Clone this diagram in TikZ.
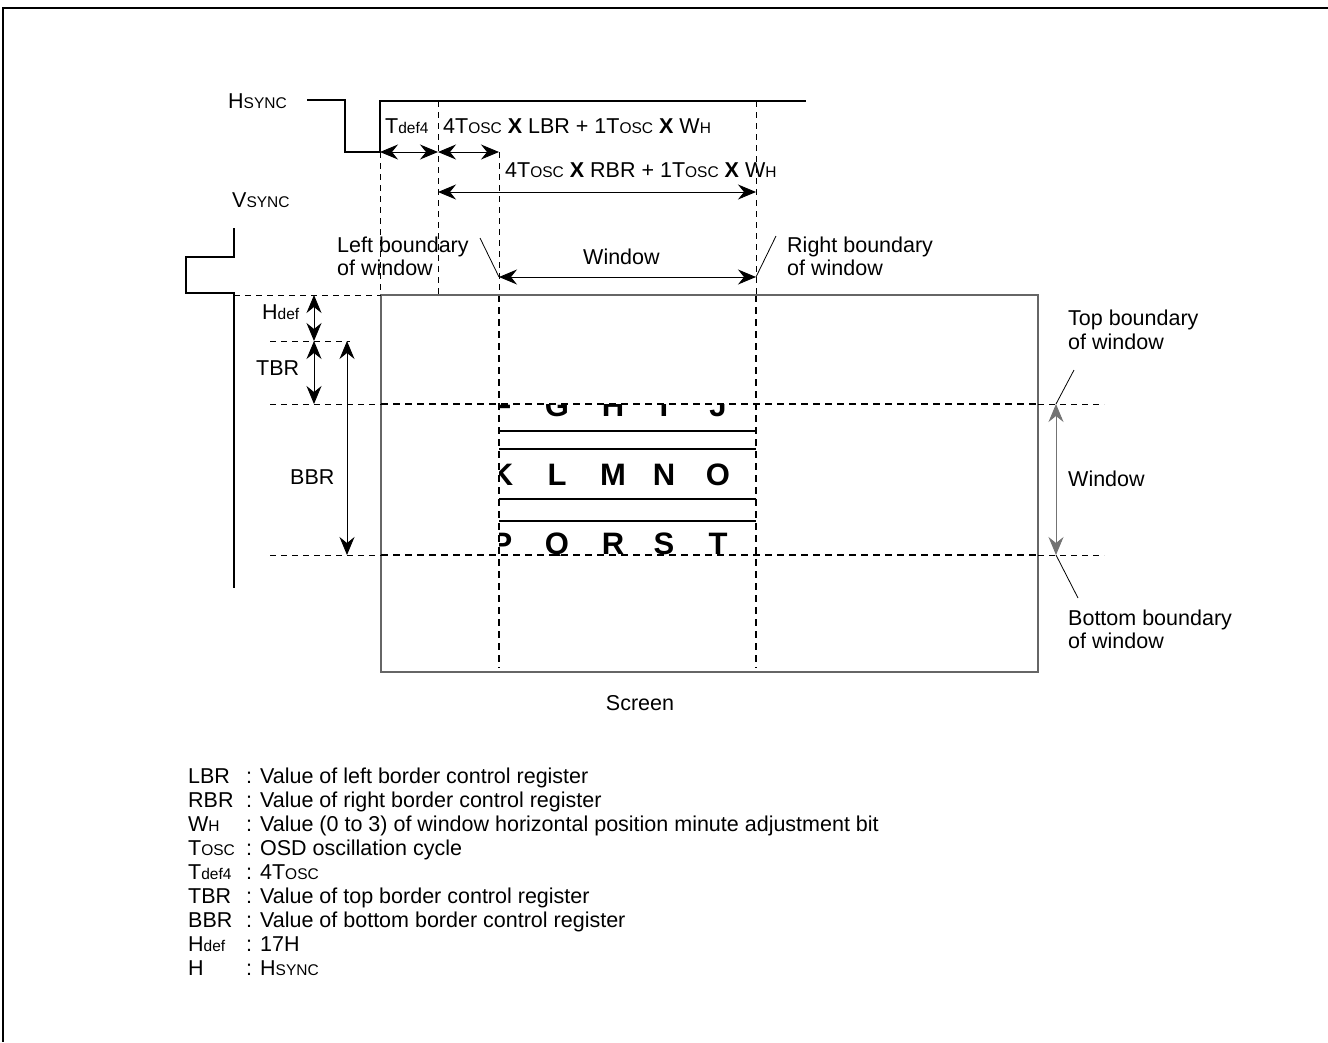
\documentclass[tikz,border=0pt]{standalone}
\usepackage{fontspec}
\setmainfont{Liberation Sans}
\usetikzlibrary{arrows.meta}
\newcommand{\sm}[1]{{\fontsize{15.5}{15.5}\selectfont #1}}
\newcommand{\lsm}[1]{{\fontsize{15.5}{15.5}\selectfont #1}}
\newcommand{\mx}{\textbf{X}}
\tikzset{
  lbl/.style={font=\fontsize{21.5}{25}\selectfont, inner sep=0pt, anchor=base west},
  leg/.style={font=\fontsize{21.5}{24}\selectfont, inner sep=0pt, anchor=base west},
  chr/.style={font=\fontsize{31}{31}\selectfont\bfseries, inner sep=0pt, anchor=base},
  wave/.style={line width=2.5pt},
  thindash/.style={dash pattern=on 6pt off 5pt, line width=0.9pt},
  thickdash/.style={dash pattern=on 7pt off 5pt, line width=2.5pt},
  dim/.style={line width=0.9pt, {Stealth[length=18pt,width=15pt,inset=6pt]}-{Stealth[length=18pt,width=15pt,inset=6pt]}},
  graydim/.style={dim, draw=black!55},
  leader/.style={line width=0.8pt},
  screenbox/.style={line width=1.4pt, draw=black!60},
  rowline/.style={line width=1.2pt},
}
\begin{document}
\begin{tikzpicture}[x=1pt,y=-1pt]
\useasboundingbox (0,0) rectangle (1328,1042);
% frame
\coordinate (f1) at (1328,8); \coordinate (f2) at (3,8); \coordinate (f3) at (3,1042);
\draw[line width=2.8pt] (f1) -- (f2) -- (f3);

% HSYNC
\node[lbl] (hs) at (228,108) {H\sm{SYNC}};
\coordinate (h0) at (307,100); \coordinate (h1) at (345,100); \coordinate (h2) at (345,152);
\coordinate (h3) at (380,152); \coordinate (h4) at (380,101); \coordinate (h5) at (806,101);
\draw[wave] (h0) -- (h1) -- (h2) -- (h3) -- (h4) -- (h5);

% timing verticals
\coordinate (a1) at (380,295);
\coordinate (b0) at (438,101); \coordinate (b1) at (438,152); \coordinate (b2) at (438,192); \coordinate (b3) at (438,295);
\coordinate (c0) at (499,152); \coordinate (c1) at (499,277); \coordinate (c2) at (499,295); \coordinate (c3) at (499,668);
\coordinate (d0) at (756,101); \coordinate (d1) at (756,192); \coordinate (d2) at (756,277); \coordinate (d3) at (756,295); \coordinate (d4) at (756,668);
\draw[thindash] (h3) -- (a1);
\draw[thindash] (b0) -- (b3);
\draw[thindash] (c0) -- (c2);
\draw[thindash] (d0) -- (d3);
\draw[thickdash] (c2) -- (c3);
\draw[thickdash] (d3) -- (d4);

\draw[dim] (h3) -- (b1);
\draw[dim] (b1) -- (c0);
\draw[dim] (b2) -- (d1);
\draw[dim] (c1) -- (d2);

\node[lbl] (tdef) at (385,133) {T\sm{def4}};
\node[lbl] (lbrf) at (443,133) {4T\sm{OSC} \mx{} LBR + 1T\sm{OSC} \mx{} W\sm{H}};
\node[lbl] (rbrf) at (505,177) {4T\sm{OSC} \mx{} RBR + 1T\sm{OSC} \mx{} W\sm{H}};

% VSYNC
\node[lbl] (vs) at (232,207) {V\sm{SYNC}};
\coordinate (v0) at (234,228); \coordinate (v1) at (234,257); \coordinate (v2) at (186,257);
\coordinate (v3) at (186,293); \coordinate (v4) at (234,293); \coordinate (v5) at (234,588);
\draw[wave] (v0) -- (v1) -- (v2) -- (v3) -- (v4) -- (v5);

% left / right boundary labels
\node[lbl] (lb1) at (337,252) {Left boundary};
\node[lbl] (lb2) at (337,275) {of window};
\coordinate (lbl0) at (480,238);
\draw[leader] (lbl0) -- (c1);
\node[lbl] (win1) at (583,264) {Window};
\node[lbl] (rb1) at (787,252) {Right boundary};
\node[lbl] (rb2) at (787,275) {of window};
\coordinate (rbl0) at (776,236);
\draw[leader] (d2) -- (rbl0);

% screen
\coordinate (s0) at (381,295); \coordinate (s1) at (1038,672);
\draw[screenbox] (s0) rectangle (s1);
\node[lbl, anchor=base] (scr) at (640,710) {Screen};

% horizontal dashed lines
\coordinate (y0a) at (234,295);
\coordinate (y1a) at (270,341); \coordinate (y1b) at (350,341);
\coordinate (y2a) at (270,404); \coordinate (y2b) at (381,404); \coordinate (y2c) at (1038,404); \coordinate (y2d) at (1104,404);
\coordinate (y3a) at (270,555); \coordinate (y3b) at (381,555); \coordinate (y3c) at (1038,555); \coordinate (y3d) at (1104,555);
\draw[thindash] (y0a) -- (s0);
\draw[thindash] (y1a) -- (y1b);
\draw[thindash] (y2a) -- (y2b);
\draw[thickdash] (y2b) -- (y2c);
\draw[thindash] (y2c) -- (y2d);
\draw[thindash] (y3a) -- (y3b);
\draw[thickdash] (y3b) -- (y3c);
\draw[thindash] (y3c) -- (y3d);

% left dimension arrows
\coordinate (p1) at (314,295); \coordinate (p2) at (314,341); \coordinate (p3) at (314,404);
\coordinate (q1) at (347,341); \coordinate (q2) at (347,555);
\draw[dim] (p1) -- (p2);
\draw[dim] (p2) -- (p3);
\draw[dim] (q1) -- (q2);
\node[lbl] (hdef) at (262,319) {H\sm{def}};
\node[lbl] (tbr) at (256,375) {TBR};
\node[lbl] (bbr) at (290,484) {BBR};

% right side
\coordinate (r1) at (1056,404); \coordinate (r2) at (1056,555);
\draw[graydim] (r1) -- (r2);
\node[lbl] (win2) at (1068,486) {Window};
\node[lbl] (tb1) at (1068,325) {Top boundary};
\node[lbl] (tb2) at (1068,349) {of window};
\node[lbl] (bb1) at (1068,625) {Bottom boundary};
\node[lbl] (bb2) at (1068,648) {of window};
\coordinate (tl0) at (1074,370); \coordinate (bl0) at (1078,598);
\draw[leader] (r1) -- (tl0);
\draw[leader] (r2) -- (bl0);

% characters
\begin{scope}
\clip (499,404) rectangle (756,555);
\foreach \r/\yy in {{F,G,H,I,J}/416, {K,L,M,N,O}/485, {P,Q,R,S,T}/554} {
  \foreach \c [count=\i] in \r {
    \pgfmathsetmacro{\xx}{{502,557,613,664,718}[\i-1]}
    \node[chr] (ch\c) at (\xx,\yy) {\c};
  }
}
\end{scope}
\coordinate (l1a) at (499,431); \coordinate (l1b) at (756,431);
\coordinate (l2a) at (499,449); \coordinate (l2b) at (756,449);
\coordinate (l3a) at (499,499); \coordinate (l3b) at (756,499);
\coordinate (l4a) at (499,521); \coordinate (l4b) at (756,521);
\draw[rowline] (l1a) -- (l1b);
\draw[rowline] (l2a) -- (l2b);
\draw[rowline] (l3a) -- (l3b);
\draw[rowline] (l4a) -- (l4b);

% legend
\foreach \k/\t/\d [count=\i from 0] in {
  LBR/{: Value of left border control register},
  RBR/{: Value of right border control register},
  {W\lsm{H}}/{: Value (0 to 3) of window horizontal position minute adjustment bit},
  {T\lsm{OSC}}/{: OSD oscillation cycle},
  {T\lsm{def4}}/{: 4T\lsm{OSC}},
  TBR/{: Value of top border control register},
  BBR/{: Value of bottom border control register},
  {H\lsm{def}}/{: 17H},
  H/{: H\lsm{SYNC}}} {
  \node[leg] (k\i) at (188,783+24*\i) {\k};
  \node[leg] (t\i) at (246,783+24*\i) {\t};
}
\end{tikzpicture}
\end{document}
